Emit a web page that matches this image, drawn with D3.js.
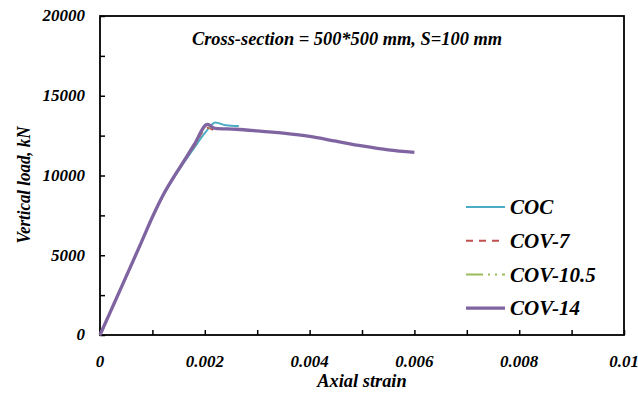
<!DOCTYPE html>
<html>
<head>
<meta charset="utf-8">
<script src="https://cdn.jsdelivr.net/npm/d3@7"></script>
<style>
  body { margin: 0; background: #fff; }
  text { font-family: "Liberation Serif", "Times New Roman", serif; font-weight: bold; font-style: italic; }
</style>
</head>
<body>
<svg width="638" height="394"></svg>
<script>
// strain / load readings for each curve
var strainCOC = [0, 0.0002, 0.0004, 0.0006, 0.0008, 0.0010, 0.0012, 0.0014, 0.0016, 0.0018, 0.0020, 0.0022, 0.0024, 0.00265];
var loadCOC   = [0, 1460, 2920, 4380, 5860, 7360, 8700, 9800, 10800, 11750, 12650, 13330, 13150, 13100];

var strainCOV7 = [0, 0.0002, 0.0004, 0.0006, 0.0008, 0.0010, 0.0012, 0.0014, 0.0016, 0.0018, 0.00205, 0.0022];
var loadCOV7   = [0, 1465, 2930, 4400, 5880, 7380, 8720, 9830, 10850, 11850, 13000, 12750];

var strainCOV105 = [0, 0.0002, 0.0004, 0.0006, 0.0008, 0.0010, 0.0012, 0.0014, 0.0016, 0.0018, 0.00205, 0.0021];
var loadCOV105   = [0, 1468, 2935, 4405, 5890, 7390, 8740, 9850, 10880, 11900, 13100, 12950];

var strainCOV14 = [0, 0.0002, 0.0004, 0.0006, 0.0008, 0.0010, 0.0012, 0.0014, 0.0016, 0.0018, 0.00205, 0.0022, 0.0026, 0.0030, 0.0035, 0.0040, 0.0045, 0.0050, 0.0055, 0.0060];
var loadCOV14   = [0, 1470, 2940, 4410, 5900, 7400, 8750, 9870, 10900, 11950, 13200, 12950, 12900, 12800, 12650, 12450, 12150, 11850, 11600, 11450];

var seriesNames = ["COC", "COV-7", "COV-10.5", "COV-14"];
var xTickLabels = [0, 0.002, 0.004, 0.006, 0.008, 0.01];
var yTickLabels = [0, 5000, 10000, 15000, 20000];

var svg = d3.select("svg"),
    margin = {top: 16, right: 14, bottom: 59, left: 100},
    width = 638 - margin.left - margin.right,
    height = 394 - margin.top - margin.bottom,
    g = svg.append("g").attr("transform", "translate(" + margin.left + "," + margin.top + ")");

var x = d3.scaleLinear().domain([0, 0.01]).range([0, width]);
var y = d3.scaleLinear().domain([0, 20000]).range([height, 0]);

var styles = [
  {color: "#4bacc6", w: 2, dash: null},
  {color: "#c0504d", w: 2, dash: "7,6"},
  {color: "#9bbb59", w: 2, dash: "17,5,2,5,2,5"},
  {color: "#8064a2", w: 3.3, dash: null}
];

var series = [
  {s: strainCOC, l: loadCOC},
  {s: strainCOV7, l: loadCOV7},
  {s: strainCOV105, l: loadCOV105},
  {s: strainCOV14, l: loadCOV14}
];

// ticks, inward
var xAxis = d3.axisBottom(x).tickValues(d3.range(0, 11).map(function(i) { return i * 0.001; }))
    .tickSizeInner(-5).tickSizeOuter(0).tickFormat("");
var yAxis = d3.axisLeft(y).tickValues(d3.range(0, 9).map(function(i) { return i * 2500; }))
    .tickSizeInner(-5).tickSizeOuter(0).tickFormat("");

g.append("g").attr("transform", "translate(0," + height + ")").call(xAxis)
  .call(function(a) { a.select(".domain").remove(); a.selectAll("line").attr("stroke", "#000").attr("stroke-width", 1.5); });
g.append("g").call(yAxis)
  .call(function(a) { a.select(".domain").remove(); a.selectAll("line").attr("stroke", "#000").attr("stroke-width", 1.5); });

g.append("rect")
  .attr("width", width).attr("height", height)
  .attr("fill", "none").attr("stroke", "#000").attr("stroke-width", 1.8);

// tick labels
g.selectAll(".xl").data(xTickLabels).enter().append("text")
  .attr("x", function(d) { return x(d); })
  .attr("y", height + 32)
  .attr("text-anchor", "middle")
  .attr("font-size", 17)
  .text(function(d) { return d; });

g.selectAll(".yl").data(yTickLabels).enter().append("text")
  .attr("x", -15)
  .attr("y", function(d) { return y(d); })
  .attr("dy", "0.32em")
  .attr("text-anchor", "end")
  .attr("font-size", 17)
  .text(function(d) { return d; });

var line = d3.line()
  .x(function(d) { return x(d[0]); })
  .y(function(d) { return y(d[1]); })
  .curve(d3.curveMonotoneX);

series.forEach(function(sr, i) {
  g.append("path")
    .datum(sr.s.map(function(v, j) { return [v, sr.l[j]]; }))
    .attr("fill", "none")
    .attr("stroke", styles[i].color)
    .attr("stroke-width", styles[i].w)
    .attr("stroke-dasharray", styles[i].dash)
    .attr("stroke-linejoin", "round")
    .attr("d", line);
});

// legend
var legend = svg.append("g").attr("transform", "translate(466,207)");
seriesNames.forEach(function(name, i) {
  var row = legend.append("g").attr("transform", "translate(0," + (i * 33.7) + ")");
  row.append("line")
    .attr("x1", 0).attr("x2", 39)
    .attr("stroke", styles[i].color)
    .attr("stroke-width", styles[i].w)
    .attr("stroke-dasharray", styles[i].dash);
  row.append("text")
    .attr("x", 44).attr("dy", "0.35em")
    .attr("font-size", 21)
    .text(name);
});

// title & axis titles
svg.append("text")
  .attr("x", 347).attr("y", 45)
  .attr("text-anchor", "middle")
  .attr("font-size", 18.4)
  .text("Cross-section = 500*500 mm, S=100 mm");

svg.append("text")
  .attr("x", margin.left + width / 2).attr("y", 387)
  .attr("text-anchor", "middle")
  .attr("font-size", 18.4)
  .text("Axial strain");

svg.append("text")
  .attr("transform", "translate(30,185) rotate(-90)")
  .attr("text-anchor", "middle")
  .attr("font-size", 18)
  .attr("textLength", 117)
  .attr("lengthAdjust", "spacingAndGlyphs")
  .text("Vertical load, kN");
</script>
</body>
</html>
